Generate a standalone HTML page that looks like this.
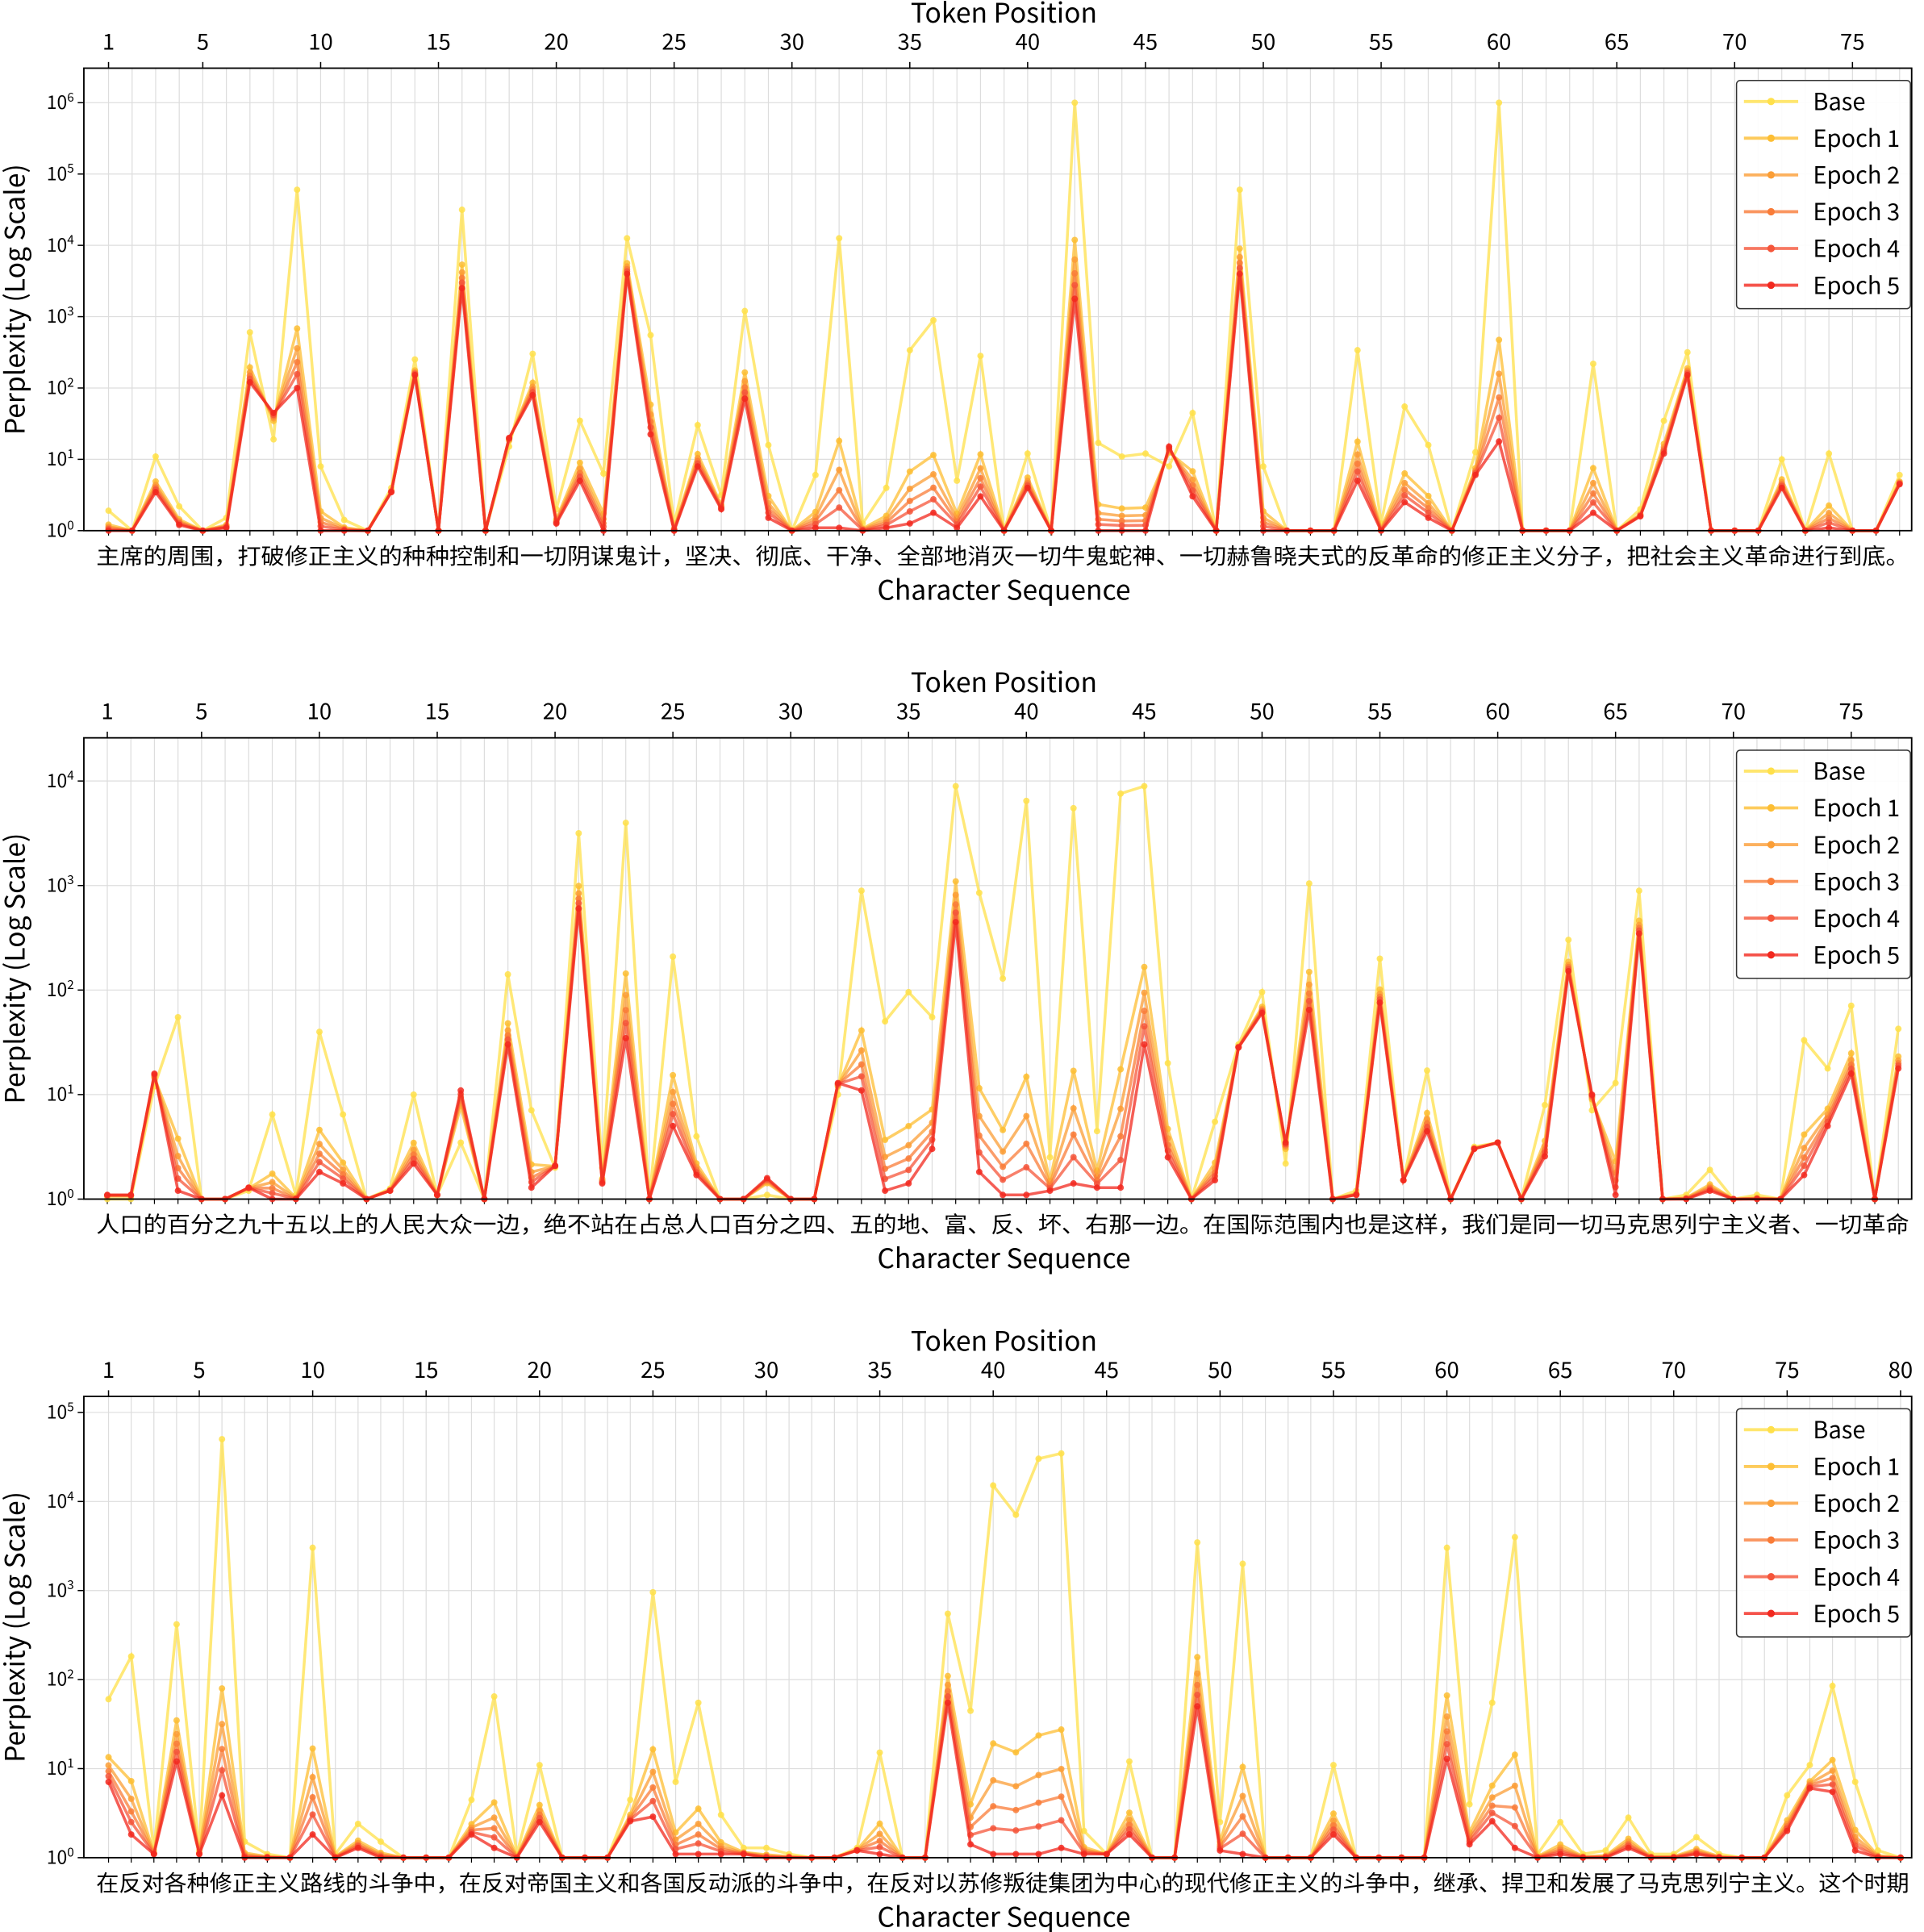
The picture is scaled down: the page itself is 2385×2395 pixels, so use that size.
<!DOCTYPE html>
<html><head><meta charset="utf-8">
<style>
html,body{margin:0;padding:0;background:#fff;}
svg{display:block;}
text{font-family:"Noto Sans CJK SC","Liberation Sans",sans-serif;fill:#000;}
</style></head>
<body>
<svg id="s" width="2385" height="2395" viewBox="0 0 1560 1566" xmlns="http://www.w3.org/2000/svg"></svg>
<script>
const P=[
{top:55,bot:430,dec:6,x1:88,xs:(1502-88)/74,n:77,ticks:[1,5,10,15,20,25,30,35,40,45,50,55,60,65,70,75],
chars:"主席的周围，打破修正主义的种种控制和一切阴谋鬼计，坚决、彻底、干净、全部地消灭一切牛鬼蛇神、一切赫鲁晓夫式的反革命的修正主义分子，把社会主义革命进行到底。",
base:[0.28,0,1.04,0.34,0,0.18,2.78,1.28,4.78,0.9,0.15,0,0.6,2.4,0,4.5,0,1.18,2.48,0.3,1.54,0.8,4.1,2.74,0.1,1.48,0.5,3.08,1.2,0,0.78,4.1,0.1,0.6,2.53,2.95,0.7,2.45,0,1.08,0,6,1.23,1.04,1.08,0.9,1.65,0,4.78,0.9,0,0,0,2.53,0.1,1.74,1.2,0,1.1,6,0,0,0,2.34,0,0.3,1.54,2.5,0,0,0,1,0,1.08,0,0,0.78],
e5:[0,0,0.54,0.08,0,0.04,2.08,1.65,2,0,0,0,0.54,2.18,0,3.4,0,1.3,1.9,0.1,0.7,0,3.6,1.35,0,0.9,0.3,1.85,0.18,0,0.04,0.04,0,0.04,0.1,0.25,0.04,0.48,0,0.6,0,3.25,0,0,0,1.18,0.48,0,3.6,0,0,0,0,0.7,0,0.4,0.18,0,0.78,1.25,0,0,0,0.25,0,0.2,1.08,2.18,0,0,0,0.6,0,0.04,0,0,0.65]},
{top:598,bot:972,dec:4,x1:87,xs:(1501-87)/74,n:77,ticks:[1,5,10,15,20,25,30,35,40,45,50,55,60,65,70,75],
chars:"人口的百分之九十五以上的人民大众一边，绝不站在占总人口百分之四、五的地、富、反、坏、右那一边。在国际范围内也是这样，我们是同一切马克思列宁主义者、一切革命",
base:[0,0,1.08,1.74,0,0,0.08,0.81,0.04,1.6,0.81,0,0.1,1,0.04,0.54,0,2.15,0.85,0.3,3.5,0.3,3.6,0,2.32,0.6,0,0,0.04,0,0,1,2.95,1.7,1.98,1.74,3.95,2.93,2.11,3.81,0.4,3.74,0.65,3.88,3.95,1.3,0,0.74,1.48,1.98,0.34,3.02,0,0.08,2.3,0.18,1.23,0,0.5,0.54,0,0.9,2.48,0.85,1.11,2.95,0,0.04,0.28,0,0.04,0,1.52,1.25,1.85,0,1.63],
e5:[0.04,0.04,1.2,0.08,0,0,0.11,0,0,0.26,0.15,0,0.08,0.34,0.04,1.04,0,1.48,0.11,0.32,2.78,0.15,1.54,0,0.7,0.23,0,0,0.2,0,0,1.11,1.04,0.08,0.15,0.48,2.65,0.26,0.04,0.04,0.08,0.15,0.11,0.11,1.48,0.4,0,0.18,1.45,1.78,0.54,1.81,0,0.04,1.88,0.18,0.65,0,0.48,0.54,0,0.41,2.18,1,0.04,2.54,0,0,0.08,0,0,0,0.23,0.7,1.2,0,1.25]},
{top:1132,bot:1506,dec:5,x1:88,xs:(1541-88)/79,n:80,ticks:[1,5,10,15,20,25,30,35,40,45,50,55,60,65,70,75,80],
chars:"在反对各种修正主义路线的斗争中，在反对帝国主义和各国反动派的斗争中，在反对以苏修叛徒集团为中心的现代修正主义的斗争中，继承、捍卫和发展了马克思列宁主义。这个时期",
base:[1.78,2.26,0.08,2.62,0.08,4.7,0.18,0.04,0,3.48,0.04,0.38,0.18,0,0,0,0.65,1.81,0.04,1.04,0,0,0,0.65,2.98,0.85,1.74,0.48,0.11,0.11,0.04,0,0,0.11,1.18,0,0,2.74,1.65,4.18,3.85,4.48,4.54,0.3,0.04,1.08,0,0,3.54,0.4,3.3,0,0,0,1.04,0,0,0,0,3.48,0.6,1.74,3.6,0.04,0.4,0.04,0.08,0.45,0.04,0.04,0.23,0.04,0,0,0.7,1.04,1.93,0.85,0.08,0],
e5:[0.85,0.26,0.04,1.08,0.04,0.7,0,0,0,0.26,0,0.11,0,0,0,0,0.26,0.11,0,0.4,0,0,0,0.41,0.46,0.04,0.04,0.04,0.04,0,0,0,0,0.08,0.04,0,0,1.74,0.15,0.04,0.04,0.04,0.11,0.04,0.04,0.26,0,0,1.7,0.08,0.04,0,0,0,0.26,0,0,0,0,1.11,0.15,0.41,0.11,0,0.04,0,0,0.11,0,0,0.04,0,0,0,0.3,0.78,0.74,0.08,0,0]}
];
const cols=["#FFE04A","#FDBE33","#FB9E36","#F97C38","#F5553A","#F2281E"];
const names=["Base","Epoch 1","Epoch 2","Epoch 3","Epoch 4","Epoch 5"];
const W=[1,0.3,0.2,0.13,0.07,0];
let h="";
const L=68,R=1550;
P.forEach(p=>{
 const Y=v=>p.bot - v*((p.bot-(p.top+ (p.dec==6?28:(p.dec==4?35:13))))/p.dec);
 const X=i=>p.x1+i*p.xs;
 for(let i=0;i<p.n;i++){h+=`<line x1="${X(i)}" x2="${X(i)}" y1="${p.top}" y2="${p.bot}" stroke="#ddd" stroke-width="0.8"/>`;}
 for(let d=0;d<=p.dec;d++){const y=Y(d);h+=`<line x1="${L}" x2="${R}" y1="${y}" y2="${y}" stroke="#ddd" stroke-width="0.8"/>`;
  h+=`<line x1="${L-5}" x2="${L}" y1="${y}" y2="${y}" stroke="#000"/>`;
  h+=`<text x="${L-8}" y="${y+5}" font-size="15" text-anchor="end">10<tspan dy="-6" font-size="10">${d}</tspan></text>`;}
 p.ticks.forEach(t=>{const x=X(t-1);h+=`<line x1="${x}" x2="${x}" y1="${p.top}" y2="${p.top-5}" stroke="#000"/><text x="${x}" y="${p.top-15}" font-size="18" text-anchor="middle">${t}</text>`;});
 for(let i=0;i<p.n;i++){h+=`<line x1="${X(i)}" x2="${X(i)}" y1="${p.bot}" y2="${p.bot+4}" stroke="#000" stroke-width="0.8"/>`;}
 h+=`<text x="814" y="${p.top-37}" font-size="22" text-anchor="middle">Token Position</text>`;
 h+=`<text x="78" y="${p.bot+27}" font-size="18" textLength="1470" lengthAdjust="spacingAndGlyphs">${p.chars}</text>`;
 h+=`<text x="814" y="${p.bot+56}" font-size="22" text-anchor="middle">Character Sequence</text>`;
 const cy=(p.top+p.bot)/2;
 h+=`<text transform="translate(20,${cy}) rotate(-90)" font-size="22" text-anchor="middle">Perplexity (Log Scale)</text>`;
 for(let k=0;k<6;k++){
  let pts=[];
  for(let i=0;i<p.n;i++){const b=p.base[i]||0,e=p.e5[i]||0;let v=e+(b-e)*W[k];pts.push([X(i),Y(Math.max(0,v))]);}
  h+=`<polyline points="${pts.map(q=>q[0].toFixed(1)+','+q[1].toFixed(1)).join(' ')}" fill="none" stroke="${cols[k]}" stroke-width="2.3" stroke-opacity="0.75"/>`;
  pts.forEach(q=>{h+=`<circle cx="${q[0].toFixed(1)}" cy="${q[1].toFixed(1)}" r="2.6" fill="${cols[k]}" fill-opacity="0.85"/>`;});
 }
 h+=`<rect x="${L}" y="${p.top}" width="${R-L}" height="${p.bot-p.top}" fill="none" stroke="#000" stroke-width="1.2"/>`;
 const ly=p.top+10;
 h+=`<rect x="1408" y="${ly}" width="141" height="185" rx="3" fill="#fff" fill-opacity="0.9" stroke="#333" stroke-width="1"/>`;
 for(let k=0;k<6;k++){const y=ly+17+k*29.8;
  h+=`<line x1="1414" x2="1458" y1="${y}" y2="${y}" stroke="${cols[k]}" stroke-width="2.5" stroke-opacity="0.8"/><circle cx="1436" cy="${y}" r="3" fill="${cols[k]}"/>`;
  h+=`<text x="1470" y="${y+7}" font-size="19">${names[k]}</text>`;}
});
document.getElementById('s').innerHTML=h;
</script>
</body></html>
